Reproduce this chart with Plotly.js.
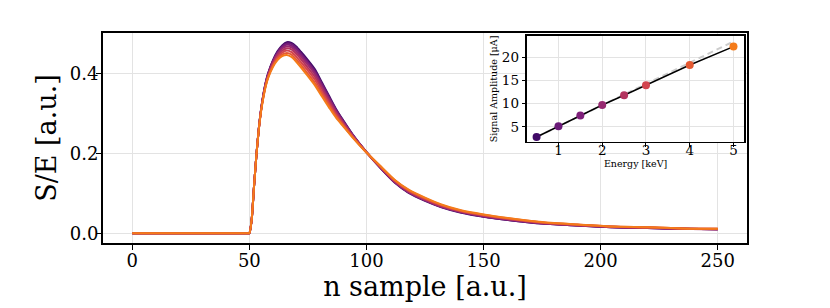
<!DOCTYPE html>
<html>
<head>
<meta charset="utf-8">
<script src="https://cdn.plot.ly/plotly-3.0.1.min.js"></script>
<style>html,body{margin:0;padding:0;background:#fff;} #chart{width:830px;height:308px;}</style>
</head>
<body>
<div id="chart"></div>
<script>
// ---- main panel: normalised pulses S/E vs sample ----
var samples = [0, 49, 50, 51, 52, 53, 54, 55, 56, 57, 58, 60, 62, 64, 66, 68, 70, 72, 75, 78, 81, 84, 87, 90, 94, 100, 106, 112, 118, 125, 132, 140, 150, 162, 175, 190, 205, 220, 235, 250];

var pulse05 = [0, 0, 0, 0.035, 0.118, 0.195, 0.260, 0.310, 0.348, 0.378, 0.400, 0.432, 0.455, 0.470, 0.478, 0.476, 0.467, 0.454, 0.433, 0.410, 0.377, 0.344, 0.311, 0.283, 0.248, 0.203, 0.163, 0.127, 0.101, 0.081, 0.065, 0.052, 0.041, 0.032, 0.024, 0.019, 0.015, 0.013, 0.011, 0.010];
var pulse10 = [0, 0, 0, 0.035, 0.118, 0.195, 0.260, 0.310, 0.347, 0.377, 0.399, 0.430, 0.453, 0.468, 0.475, 0.473, 0.464, 0.450, 0.429, 0.406, 0.374, 0.341, 0.309, 0.282, 0.247, 0.203, 0.163, 0.128, 0.102, 0.082, 0.066, 0.053, 0.042, 0.032, 0.024, 0.019, 0.015, 0.013, 0.011, 0.010];
var pulse15 = [0, 0, 0, 0.035, 0.118, 0.195, 0.260, 0.309, 0.346, 0.376, 0.398, 0.429, 0.451, 0.465, 0.472, 0.469, 0.460, 0.447, 0.425, 0.402, 0.370, 0.338, 0.307, 0.280, 0.246, 0.203, 0.164, 0.128, 0.103, 0.083, 0.066, 0.053, 0.042, 0.033, 0.025, 0.020, 0.015, 0.013, 0.011, 0.010];
var pulse20 = [0, 0, 0, 0.035, 0.118, 0.195, 0.259, 0.308, 0.346, 0.375, 0.396, 0.427, 0.448, 0.462, 0.468, 0.465, 0.455, 0.442, 0.421, 0.398, 0.366, 0.335, 0.304, 0.278, 0.246, 0.203, 0.165, 0.129, 0.103, 0.083, 0.067, 0.054, 0.043, 0.034, 0.025, 0.020, 0.016, 0.014, 0.011, 0.010];
var pulse25 = [0, 0, 0, 0.035, 0.118, 0.195, 0.259, 0.308, 0.344, 0.373, 0.394, 0.424, 0.445, 0.457, 0.463, 0.460, 0.449, 0.436, 0.414, 0.391, 0.361, 0.330, 0.301, 0.276, 0.244, 0.203, 0.165, 0.130, 0.105, 0.085, 0.068, 0.055, 0.044, 0.034, 0.026, 0.020, 0.016, 0.014, 0.011, 0.010];
var pulse30 = [0, 0, 0, 0.035, 0.118, 0.195, 0.259, 0.307, 0.343, 0.371, 0.392, 0.421, 0.440, 0.452, 0.457, 0.453, 0.442, 0.428, 0.407, 0.384, 0.354, 0.325, 0.296, 0.273, 0.243, 0.202, 0.166, 0.132, 0.106, 0.086, 0.070, 0.056, 0.045, 0.035, 0.027, 0.021, 0.016, 0.014, 0.012, 0.011];
var pulse40 = [0, 0, 0, 0.035, 0.118, 0.195, 0.258, 0.306, 0.341, 0.370, 0.390, 0.418, 0.437, 0.447, 0.451, 0.447, 0.435, 0.421, 0.399, 0.376, 0.348, 0.320, 0.293, 0.270, 0.241, 0.202, 0.167, 0.133, 0.108, 0.088, 0.071, 0.057, 0.046, 0.036, 0.027, 0.022, 0.017, 0.015, 0.012, 0.011];
var pulse50 = [0, 0, 0, 0.035, 0.118, 0.195, 0.258, 0.305, 0.340, 0.368, 0.388, 0.415, 0.433, 0.443, 0.446, 0.441, 0.429, 0.415, 0.393, 0.370, 0.342, 0.315, 0.289, 0.268, 0.240, 0.202, 0.168, 0.134, 0.109, 0.089, 0.072, 0.058, 0.047, 0.037, 0.028, 0.022, 0.017, 0.015, 0.012, 0.011];

// ---- inset: amplitude vs energy ----
var energies = [0.5, 1, 1.5, 2, 2.5, 3, 4, 5];
var amplitudes = [2.83, 5.15, 7.48, 9.72, 11.83, 14.0, 18.35, 22.3];
var linearE = [0.5, 5];
var linearA = [2.83, 23.4];

// tick labels
var sampleTicks = [0, 50, 100, 150, 200, 250];
var seTicks = [0, 0.2, 0.4];
var seTickText = ['0.0', '0.2', '0.4'];
var energyTicks = [1, 2, 3, 4, 5];
var ampTicks = [5, 10, 15, 20];

var colors = ['#400a67', '#6a1a77', '#7e1f7a', '#972a71', '#b3345f', '#d2444f', '#e55a33', '#f47b1a'];
var pulses = [pulse05, pulse10, pulse15, pulse20, pulse25, pulse30, pulse40, pulse50];

var font = 'DejaVu Serif, Liberation Serif, serif';
var traces = [];
pulses.forEach(function (p, i) {
  traces.push({
    x: samples, y: p, type: 'scatter', mode: 'lines',
    line: {color: colors[i], width: 2, shape: 'spline', smoothing: 0.6},
    xaxis: 'x', yaxis: 'y', hoverinfo: 'skip', showlegend: false
  });
});
// empty traces so that the label-only overlay axes get drawn
traces.push({x: [], y: [], type: 'scatter', mode: 'lines', xaxis: 'x3', yaxis: 'y', showlegend: false});
traces.push({x: [], y: [], type: 'scatter', mode: 'lines', xaxis: 'x', yaxis: 'y3', showlegend: false});
traces.push({x: [], y: [], type: 'scatter', mode: 'lines', xaxis: 'x4', yaxis: 'y2', showlegend: false});

traces.push({
  x: linearE, y: linearA, type: 'scatter', mode: 'lines',
  line: {color: '#cccccc', width: 2, dash: '6px,4px'},
  xaxis: 'x2', yaxis: 'y2', showlegend: false
});
traces.push({
  x: energies, y: amplitudes, type: 'scatter', mode: 'lines',
  line: {color: '#000000', width: 1.5},
  xaxis: 'x2', yaxis: 'y2', showlegend: false
});
traces.push({
  x: energies, y: amplitudes, type: 'scatter', mode: 'markers',
  marker: {color: colors, size: 8, line: {width: 0}},
  xaxis: 'x2', yaxis: 'y2', showlegend: false
});

var mainXRange = [-12.5, 262.5];
var mainYRange = [-0.0245, 0.501];
var insetXRange = [0.275, 5.25];
var insetYRange = [1.75, 24.6];
var clear = 'rgba(0,0,0,0)';

var layout = {
  width: 830, height: 308,
  margin: {l: 103, r: 83, t: 33, b: 65, pad: 0},
  paper_bgcolor: '#ffffff', plot_bgcolor: '#ffffff',
  font: {family: font, color: '#000000'},
  showlegend: false,
  xaxis: {
    domain: [0, 1], range: mainXRange,
    tickvals: sampleTicks, showticklabels: false,
    ticks: 'outside', ticklen: 5, tickwidth: 1, tickcolor: '#000',
    showgrid: true, gridcolor: '#e3e3e3', gridwidth: 1, zeroline: false,
    showline: true, mirror: true, linecolor: '#000', linewidth: 2
  },
  xaxis3: {
    overlaying: 'x', anchor: 'free', position: 0, side: 'bottom',
    range: mainXRange, tickvals: sampleTicks,
    ticks: 'outside', ticklen: 1, tickcolor: clear,
    tickfont: {size: 18, family: font},
    showgrid: false, zeroline: false, showline: false,
    title: {text: 'n sample [a.u.]', font: {size: 27, family: font}, standoff: 1}
  },
  yaxis: {
    domain: [0, 1], range: mainYRange,
    tickvals: seTicks, showticklabels: false,
    ticks: 'outside', ticklen: 5, tickwidth: 1, tickcolor: '#000',
    showgrid: true, gridcolor: '#e3e3e3', gridwidth: 1, zeroline: false,
    showline: true, mirror: true, linecolor: '#000', linewidth: 2
  },
  yaxis3: {
    overlaying: 'y', anchor: 'free', position: 0, side: 'left',
    range: mainYRange, tickvals: seTicks, ticktext: seTickText,
    ticks: 'outside', ticklen: 1, tickcolor: clear,
    tickfont: {size: 18, family: font},
    showgrid: false, zeroline: false, showline: false,
    title: {text: 'S/E [a.u.]', font: {size: 27, family: font}, standoff: 4}
  },
  xaxis2: {
    domain: [0.658, 0.996], anchor: 'y2', range: insetXRange,
    tickvals: energyTicks, showticklabels: false,
    ticks: 'outside', ticklen: 3.5, tickwidth: 1, tickcolor: '#000',
    showgrid: true, gridcolor: '#e3e3e3', gridwidth: 1, zeroline: false,
    showline: true, mirror: true, linecolor: '#000', linewidth: 1.5
  },
  xaxis4: {
    overlaying: 'x2', anchor: 'free', position: 0.488, side: 'bottom',
    range: insetXRange, tickvals: energyTicks, ticks: '',
    tickfont: {size: 13.5, family: font},
    showgrid: false, zeroline: false, showline: false,
    title: {text: 'Energy [keV]', font: {size: 9.5, family: font}, standoff: 2}
  },
  yaxis2: {
    domain: [0.481, 0.986], anchor: 'x2', range: insetYRange,
    tickvals: ampTicks,
    ticks: 'outside', ticklen: 3.5, tickwidth: 1, tickcolor: '#000',
    tickfont: {size: 13.5, family: font},
    showgrid: true, gridcolor: '#e3e3e3', gridwidth: 1, zeroline: false,
    showline: true, mirror: true, linecolor: '#000', linewidth: 1.5,
    title: {text: 'Signal Amplitude [μA]', font: {size: 9.5, family: font}, standoff: 2}
  }
};

Plotly.newPlot('chart', traces, layout, {staticPlot: true, displayModeBar: false});
</script>
</body>
</html>
